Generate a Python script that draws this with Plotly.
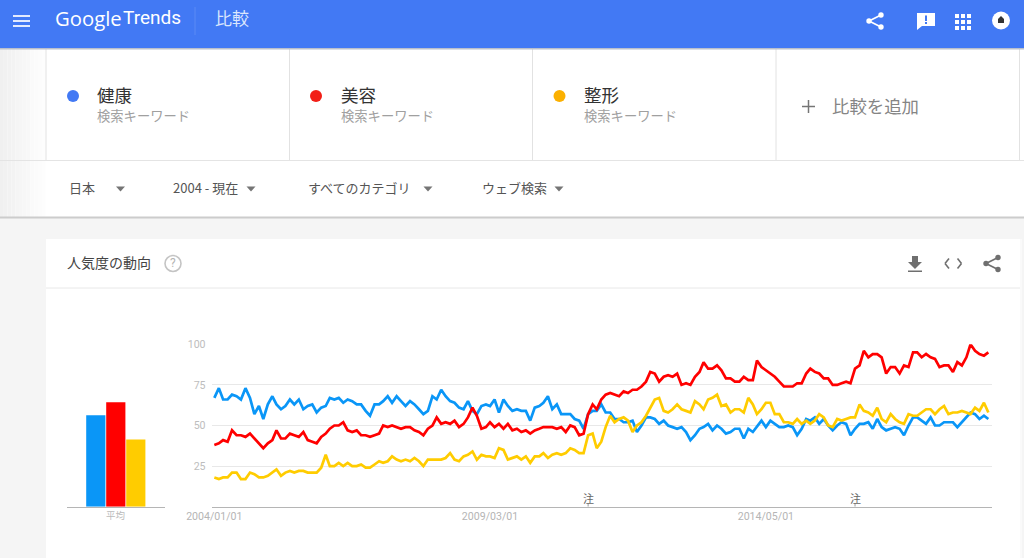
import math
import pandas as pd
import plotly.graph_objects as go

W, H = 1024, 558
CJK = "Noto Sans CJK JP"

KEYWORDS = ["健康", "美容", "整形"]
KEYWORD_SUB = "検索キーワード"
AVERAGES = [56.3, 64.3, 41.4]
AVERAGE_LABEL = "平均"
Y_TICKS = [25, 50, 75, 100]
X_TICKS = ["2004-01-01", "2009-03-01", "2014-05-01"]
NOTE_DATES = ["2011-01-01", "2016-01-01"]
NOTE_TEXT = "注"
FILTERS = ["日本", "2004 - 現在", "すべてのカテゴリ", "ウェブ検索"]

HEALTH = [
    67,73,66,66,69,68,66,73,67,57, 62,54,63,68,63,60,62,66,63,66,
    60,62,63,58,61,62,67,66,67,64, 66,65,63,63,59,56,63,63,65,68,
    64,68,65,62,65,63,60,57,59,68, 66,72,68,65,64,61,60,65,59,57,
    62,63,62,66,58,66,62,59,60,59, 59,53,61,62,64,68,60,63,57,57,
    57,54,53,48,
    57,59,59,63,58,58,54,54,52,52, 53,46,50,55,55,54,51,53,50,49,
    48,49,46,41,44,48,49,51,47,50, 48,45,46,48,48,42,48,46,49,53,
    49,53,51,49,49,50,49,44,48,54, 53,55,51,54,50,47,50,52,51,44,
    48,51,51,52,48,54,49,47,48,49, 48,44,50,55,55,53,51,55,50,50,
    52,52,52,49,52,55,58,57,54,56, 54,
]
BEAUTY = [
    38,39,41,40,47,44,44,43,45,42, 39,36,39,41,47,42,42,45,44,43,
    46,41,40,39,43,45,48,50,50,52, 47,46,47,44,44,43,44,45,50,49,
    50,49,48,49,49,47,46,44,48,50, 55,51,52,51,53,49,51,55,61,56,
    48,49,52,49,51,48,51,47,48,46, 47,45,47,48,49,49,49,48,49,46,
    50,49,44,45,
    57,63,60,66,69,70,69,68,71,70, 72,72,74,77,83,82,77,80,81,80,
    82,75,76,75,80,83,89,85,85,87, 84,79,79,77,77,80,78,78,90,86,
    84,82,80,77,74,74,74,76,76,82, 85,83,82,79,79,75,75,76,77,76,
    85,87,96,92,94,94,92,82,86,86, 82,87,86,95,95,92,94,92,91,86,
    87,87,83,89,87,92,100,96,94,93, 95,
]
SURGERY = [
    18,17,18,18,21,21,17,17,21,20, 18,18,19,21,23,19,21,22,21,22,
    22,21,21,21,24,32,25,25,27,25, 27,25,25,26,24,24,26,28,27,28,
    31,29,28,29,28,30,28,25,29,29, 29,29,30,33,29,28,31,32,34,29,
    32,31,31,30,36,35,29,30,31,29, 31,27,31,31,33,30,32,33,32,33,
    36,35,33,33,
    44,45,36,40,49,56,52,54,55,53, 46,50,52,56,61,66,67,59,58,60,
    63,60,59,58,65,63,60,66,67,69, 62,63,58,60,60,58,67,63,57,60,
    64,64,57,57,52,52,51,54,51,53, 51,53,57,55,50,49,54,53,54,55,
    55,63,59,58,56,61,54,52,57,54, 52,51,57,56,56,58,60,60,57,60,
    62,57,58,58,59,58,57,61,59,64, 58,
]
SERIES = [HEALTH, BEAUTY, SURGERY]
LINE_COLORS = ["#0a96f7", "#ff0000", "#ffcc00"]
DOT_COLORS = ["#4279f4", "#f21f17", "#fbb000"]
dates = pd.date_range("2004-01-01", periods=len(HEALTH), freq="MS")


def px(x):
    return x / W


def py(y):
    return 1 - y / H


shapes = []


def rect(x0, y0, x1, y1, color, layer="below"):
    shapes.append(dict(type="rect", xref="paper", yref="paper", x0=px(x0), x1=px(x1),
                       y0=py(y1), y1=py(y0), fillcolor=color, line_width=0, layer=layer))


def seg(x0, y0, x1, y1, color, width=1, layer="below"):
    shapes.append(dict(type="line", xref="paper", yref="paper", x0=px(x0), x1=px(x1),
                       y0=py(y0), y1=py(y1), line=dict(color=color, width=width), layer=layer))


def circle(cx, cy, r, color, line=None, width=0, layer="above"):
    shapes.append(dict(type="circle", xref="paper", yref="paper", x0=px(cx - r), x1=px(cx + r),
                       y0=py(cy + r), y1=py(cy - r), fillcolor=color, layer=layer,
                       line=dict(color=line or color, width=width)))


def poly(points, color):
    d = "M" + " L".join(f"{px(a):.5f},{py(b):.5f}" for a, b in points) + " Z"
    shapes.append(dict(type="path", xref="paper", yref="paper", path=d, fillcolor=color,
                       line_width=0, layer="above"))


def share(cx, cy, color):
    seg(cx + 6, cy - 6, cx - 6, cy, color, 1.6, "above")
    seg(cx + 6, cy + 6, cx - 6, cy, color, 1.6, "above")
    circle(cx + 6, cy - 6, 2.7, color)
    circle(cx + 6, cy + 6, 2.7, color)
    circle(cx - 6, cy, 2.7, color)


annotations = []


def text(x, y, s, size, color, family=CJK, anchor="left"):
    annotations.append(dict(xref="paper", yref="paper", x=px(x), y=py(y), text=s, showarrow=False,
                            xanchor=anchor, yanchor="middle", xshift=0, borderpad=0,
                            font=dict(family=family, size=size, color=color)))


# page background and panels
rect(0, 0, W, H, "#f5f5f5")
rect(0, 48, W, 217, "#ffffff")
for i in range(12):
    shade = 240 + int(i * 15 / 12)
    rect(i * 3.8, 48, (i + 1) * 3.8, 217, f"rgb({shade},{shade},{shade})")
rect(46, 239, 1020, H, "#ffffff")
rect(1020, 239, 1022, H, "#fafafa")
seg(46, 288, 1020, 288, "#e8e8e8")
seg(0, 160.5, W, 160.5, "#e4e4e4")
seg(0, 217.5, W, 217.5, "#cccccc", 2)
for x in [46, 289.5, 532.5, 776, 1019.5]:
    seg(x, 48, x, 160, "#e2e2e2")
rect(0, 48, W, 49.5, "#b9bfcc")
rect(0, 0, W, 48, "#4279f4")
seg(195, 7, 195, 35, "#5b8bf5")

# header
for y in [16, 21, 26]:
    seg(13, y, 30, y, "#ffffff", 1.7, "above")
text(53.5, 18, "Google", 20.3, "#ffffff", "Open Sans")
text(122, 18, "Trends", 19, "#ffffff", "Roboto")
text(213.5, 18, "比較", 17, "#dbe6fd")
share(875, 21, "#ffffff")
poly([(917, 13), (935, 13), (935, 26), (922, 26), (917, 30)], "#ffffff")
rect(925, 15.5, 927, 21, "#4279f4", "above")
rect(925, 22, 927, 24, "#4279f4", "above")
for i in range(3):
    for j in range(3):
        rect(955 + i * 6, 14 + j * 6, 959 + i * 6, 18 + j * 6, "#ffffff", "above")
circle(1001, 20.5, 9, "#ffffff")
poly([(1001, 16), (1004, 19), (1004, 23), (998, 23), (998, 19)], "#333333")

# keyword cards
for name, dot, xdot, xtxt in zip(KEYWORDS, DOT_COLORS, [73, 316, 559.5], [95.5, 339.5, 582.5]):
    circle(xdot, 96, 6, dot)
    text(xtxt, 94, name, 17.5, "#333333")
    text(xtxt, 115, KEYWORD_SUB, 13.3, "#a0a0a0")
seg(802, 106.5, 815, 106.5, "#757575", 1.5, "above")
seg(808.5, 100, 808.5, 113, "#757575", 1.5, "above")
text(830.5, 105.5, "比較を追加", 17.4, "#858585")

# filters
for label, xt, xa in zip(FILTERS, [67.5, 171.5, 306.5, 480.5], [120.5, 251, 428, 559]):
    text(xt, 187.5, label, 13, "#555555")
    poly([(xa - 4.5, 186.5), (xa + 4.5, 186.5), (xa, 191.5)], "#757575")

# card title and tools
text(65.5, 262, "人気度の動向", 14, "#444444")
circle(173, 263.5, 8, "#ffffff", "#c4c4c4", 1.6)
text(173, 263, "?", 12, "#b5b5b5", "Roboto", "center")
poly([(912, 256), (918, 256), (918, 262), (922, 262), (915, 269), (908, 262), (912, 262)], "#6f6f6f")
rect(908, 270.5, 922, 272, "#6f6f6f", "above")
for sign, cx in [(-1, 949), (1, 957.5)]:
    seg(cx, 258.5, cx + sign * 4, 263.5, "#6f6f6f", 1.6, "above")
    seg(cx + sign * 4, 263.5, cx, 268.5, "#6f6f6f", 1.6, "above")
share(992, 263.5, "#6f6f6f")

fig = go.Figure()
for name, vals, col in zip(KEYWORDS, SERIES, LINE_COLORS):
    fig.add_trace(go.Scatter(x=dates, y=vals, name=name, mode="lines", cliponaxis=False,
                             line=dict(color=col, width=2.7, shape="linear"),
                             xaxis="x", yaxis="y"))
fig.add_trace(go.Bar(x=KEYWORDS, y=AVERAGES, marker=dict(color=LINE_COLORS, line_width=0),
                     xaxis="x2", yaxis="y2", width=0.96))

for d in NOTE_DATES:
    annotations.append(dict(xref="x", yref="y", x=d, y=5.3, text=NOTE_TEXT, showarrow=False,
                            font=dict(family=CJK, size=11, color="#666666")))
    shapes.append(dict(type="line", xref="x", yref="y", x0=d, x1=d, y0=0, y1=2,
                       line=dict(color="#999999", width=1), layer="above"))
text(115.5, 515, AVERAGE_LABEL, 9.5, "#bbbbbb", CJK, "center")

AX_TOP, AX_BOTTOM = 344.3, 506.7
fig.update_layout(
    width=W, height=H, autosize=False, showlegend=False, hovermode=False,
    margin=dict(l=0, r=0, t=0, b=0, pad=0, autoexpand=False), paper_bgcolor="#ffffff",
    plot_bgcolor="rgba(0,0,0,0)",
    shapes=shapes, annotations=annotations, bargap=0.04,
    xaxis=dict(domain=[px(211.7), px(992)], type="date", range=["2003-12-14", "2018-07-26"],
               tickvals=X_TICKS, tickformat="%Y/%m/%d", ticks="", showgrid=False, showline=True,
               linecolor="#b5b5b5", linewidth=1, zeroline=False, anchor="y", automargin=False,
               tickfont=dict(family="Roboto", size=10.6, color="#b5b5b5")),
    yaxis=dict(domain=[py(AX_BOTTOM), py(AX_TOP)], range=[0, 100], tickvals=Y_TICKS,
               showgrid=True, gridcolor="#e8e8e8", gridwidth=1, zeroline=False, showline=False,
               ticks="outside", ticklen=3, tickcolor="rgba(0,0,0,0)", anchor="x", automargin=False,
               tickfont=dict(family="Roboto", size=10.6, color="#bdbdbd")),
    xaxis2=dict(domain=[px(67), px(165)], type="category", range=[-1.44, 3.46], showticklabels=False,
                ticks="", showgrid=False, showline=True, linecolor="#b5b5b5", linewidth=1,
                zeroline=False, anchor="y2", automargin=False),
    yaxis2=dict(domain=[py(AX_BOTTOM), py(AX_TOP)], range=[0, 100], visible=False, anchor="x2"),
)
fig.write_html("out.html", config={"displayModeBar": False},
               post_script="document.body.style.margin='0';document.documentElement.style.overflow='hidden';")
